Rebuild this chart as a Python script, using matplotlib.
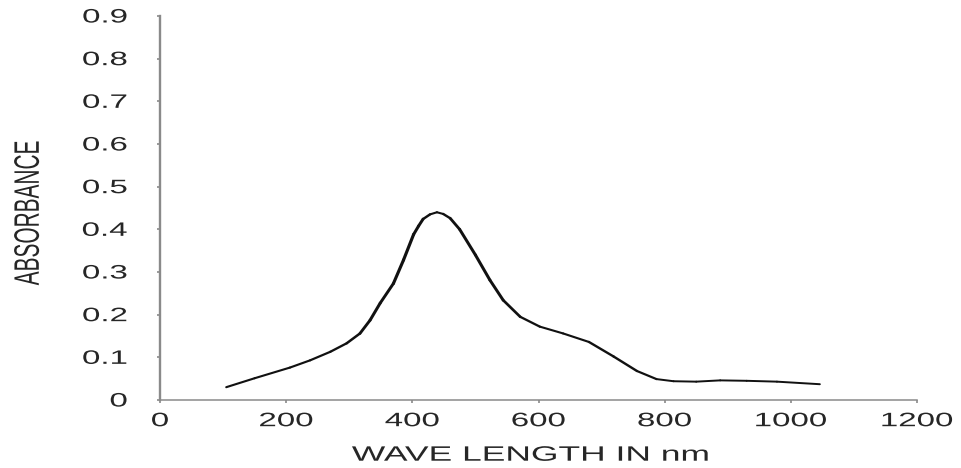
import matplotlib
matplotlib.use("Agg")
import matplotlib.pyplot as plt
import numpy as np
from matplotlib.collections import LineCollection
from matplotlib.patheffects import AbstractPathEffect
from matplotlib.transforms import Affine2D

# absorbance spectrum
wavelength = [105, 150, 206, 238, 270, 296, 317, 333, 349, 370, 386, 402, 410,
              417, 428, 439, 449, 460, 475, 500, 523, 544, 571, 602, 639, 680,
              719, 756, 787, 814, 850, 888, 930, 978, 1046]
absorbance = [0.030, 0.051, 0.076, 0.093, 0.113, 0.133, 0.156, 0.187, 0.227,
              0.273, 0.328, 0.388, 0.408, 0.424, 0.435, 0.440, 0.436, 0.426,
              0.400, 0.340, 0.281, 0.234, 0.195, 0.172, 0.156, 0.136, 0.102,
              0.068, 0.049, 0.044, 0.043, 0.046, 0.045, 0.043, 0.037]

xticks = [0, 200, 400, 600, 800, 1000, 1200]
yticks = [0, 0.1, 0.2, 0.3, 0.4, 0.5, 0.6, 0.7, 0.8, 0.9]
ytick_labels = ['0', '0.1', '0.2', '0.3', '0.4', '0.5', '0.6', '0.7', '0.8', '0.9']

WIDEN = 1.7          # horizontal stretch of the lettering
AXIS_GREY = '#8a8a8a'
TEXT_COL = '#262626'


class Widen(AbstractPathEffect):
    """Stretch glyph outlines horizontally about the centre or right edge."""

    def __init__(self, sx, anchor='center'):
        super().__init__()
        self.sx = sx
        self.anchor = anchor

    def draw_path(self, renderer, gc, tpath, affine, rgbFace=None):
        ext = tpath.get_extents(affine)
        x0 = ext.x1 if self.anchor == 'right' else 0.5 * (ext.x0 + ext.x1)
        t = affine + Affine2D().translate(-x0, 0).scale(self.sx, 1).translate(x0, 0)
        renderer.draw_path(gc, tpath, t, rgbFace)


plt.rcParams['font.family'] = ['Liberation Sans', 'DejaVu Sans']

W, H = 962, 468
fig = plt.figure(figsize=(W / 100, H / 100), dpi=100)
left, right, bottom, top = 160, 917, 400, 16
ax = fig.add_axes([left / W, (H - bottom) / H, (right - left) / W, (bottom - top) / H])

ax.set_xlim(0, 1200)
ax.set_ylim(0, 0.9)

# line thickness follows the direction of each segment on screen
x = np.array(wavelength, float)
y = np.array(absorbance, float)
px_x = (right - left) / 1200
px_y = (bottom - top) / 0.9
phi = np.arctan2(np.diff(y) * px_y, np.diff(x) * px_x)
base = 1.4
lws = base * np.sqrt(np.cos(phi) ** 2 + (WIDEN * np.sin(phi)) ** 2)
pts = np.column_stack([x, y])
segs = np.stack([pts[:-1], pts[1:]], axis=1)
lc = LineCollection(segs, colors='#111111', linewidths=lws, capstyle='round',
                    joinstyle='round')
ax.add_collection(lc)

for side in ['top', 'right']:
    ax.spines[side].set_visible(False)
ax.spines['left'].set_color(AXIS_GREY)
ax.spines['left'].set_linewidth(1.7)
ax.spines['bottom'].set_color(AXIS_GREY)
ax.spines['bottom'].set_linewidth(1.1)

ax.set_xticks(xticks)
ax.set_xticklabels([str(v) for v in xticks])
ax.set_yticks(yticks)
ax.set_yticklabels(ytick_labels)
ax.tick_params(axis='both', direction='out', length=2.5, width=1.2,
               color=AXIS_GREY, labelsize=14, labelcolor=TEXT_COL)
ax.tick_params(axis='x', pad=7)
ax.tick_params(axis='y', pad=21)

for lbl in ax.get_xticklabels():
    lbl.set_path_effects([Widen(WIDEN, 'center')])
for lbl in ax.get_yticklabels():
    lbl.set_path_effects([Widen(WIDEN, 'right')])

ax.set_xlabel('WAVE LENGTH IN nm', fontsize=15, color=TEXT_COL)
ax.xaxis.set_label_coords(0.49, -0.119)
ax.xaxis.label.set_path_effects([Widen(WIDEN)])

ax.set_ylabel('ABSORBANCE', fontsize=15, color=TEXT_COL, va='center')
ax.yaxis.set_label_coords(-0.174, 0.488)
ax.yaxis.label.set_path_effects([Widen(WIDEN)])

fig.savefig('out.png', dpi=100)
